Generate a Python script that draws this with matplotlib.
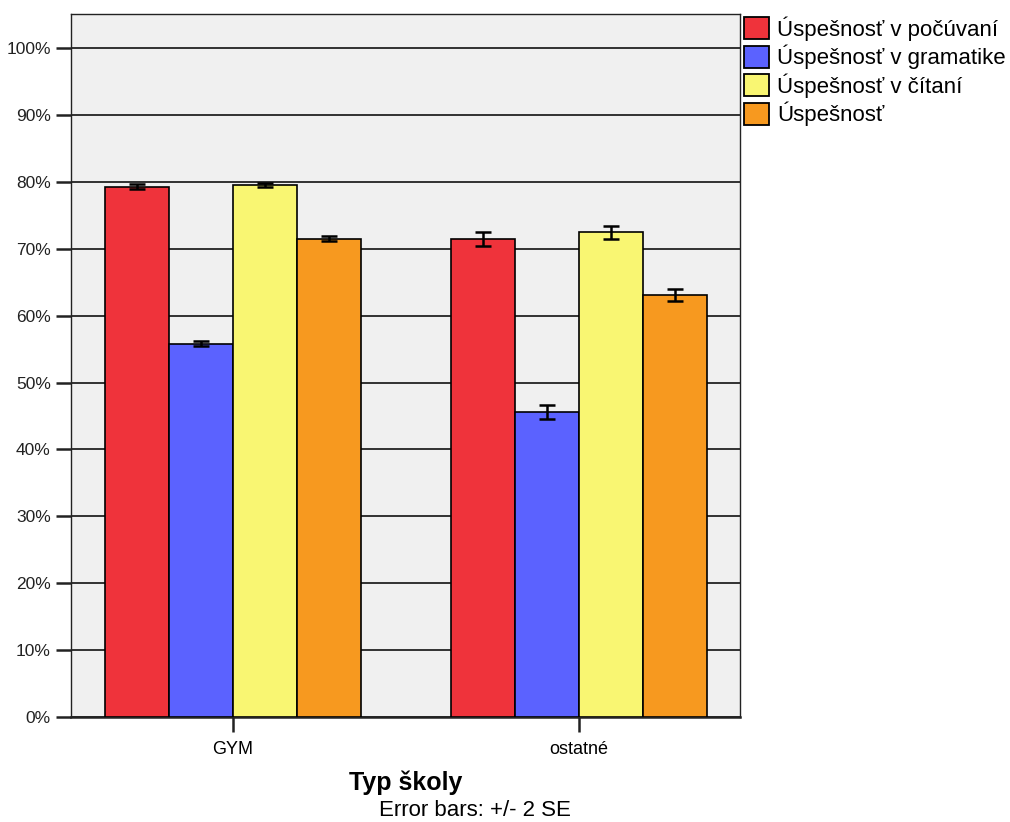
import numpy as np
import matplotlib as mpl
mpl.use('Agg')
import matplotlib.pyplot as plt
from matplotlib.patches import Patch

plt.rcParams['font.family'] = ['Liberation Sans', 'DejaVu Sans']

# data (percent)
groups = ['GYM', 'ostatné']
series = ['Úspešnosť v počúvaní', 'Úspešnosť v gramatike', 'Úspešnosť v čítaní', 'Úspešnosť']
means_gym = [79.3, 55.8, 79.5, 71.5]
means_ost = [71.45, 45.6, 72.45, 63.1]
err_gym = [0.4, 0.35, 0.3, 0.35]
err_ost = [1.1, 1.0, 1.0, 0.95]
colors = ['#EF333B', '#5B62FF', '#F9F672', '#F7991F']
yticks = list(range(0, 101, 10))


def main():
    fig = plt.figure(figsize=(10.1, 8.22), dpi=100)
    ax = fig.add_axes([0.0703, 0.1277, 0.6624, 0.8553])
    ax.set_facecolor('#F0F0F0')

    x = np.arange(len(groups))
    width = 0.185
    means = np.array([means_gym, means_ost])
    errs = np.array([err_gym, err_ost])
    for i, name in enumerate(series):
        pos = x + (i - 1.5) * width
        ax.bar(pos, means[:, i], width=width, color=colors[i], edgecolor='black',
               linewidth=1.2, zorder=3)
        ax.errorbar(pos, means[:, i], yerr=errs[:, i], fmt='none', ecolor='black',
                    elinewidth=1.8, capsize=5.8, capthick=1.8, zorder=4)

    ax.set_ylim(0, 105.1)
    ax.set_xlim(-0.468, 1.466)
    ax.set_yticks(yticks)
    ax.set_yticklabels([f'{v}%' for v in yticks], fontsize=12.5, color='#222222')
    ax.yaxis.grid(True, color='#222222', linewidth=1.3, zorder=1)
    ax.set_axisbelow(True)
    ax.set_xticks(x)
    ax.set_xticklabels(groups, fontsize=13)
    ax.tick_params(axis='both', direction='out', length=11, width=1.8, color='#222222')
    ax.tick_params(axis='x', pad=6)
    for s in ax.spines.values():
        s.set_linewidth(1.0)
        s.set_color('#222222')
    ax.spines['bottom'].set_linewidth(1.8)

    ax.set_xlabel('Typ školy', fontsize=18, fontweight='bold', labelpad=9)
    fig.text(0.470, 0.001, 'Error bars: +/- 2 SE', fontsize=16, ha='center', va='bottom')

    handles = [Patch(facecolor=c, edgecolor='black', linewidth=1.3) for c in colors]
    fig.legend(handles, series, loc='upper left', bbox_to_anchor=(0.721, 0.999),
               frameon=False, fontsize=16, handlelength=1.15, handleheight=1.15,
               handletextpad=0.35, labelspacing=0.18, borderpad=0.2)

    plt.savefig('out.png', dpi=100)
    plt.close()


if __name__ == '__main__':
    main()
